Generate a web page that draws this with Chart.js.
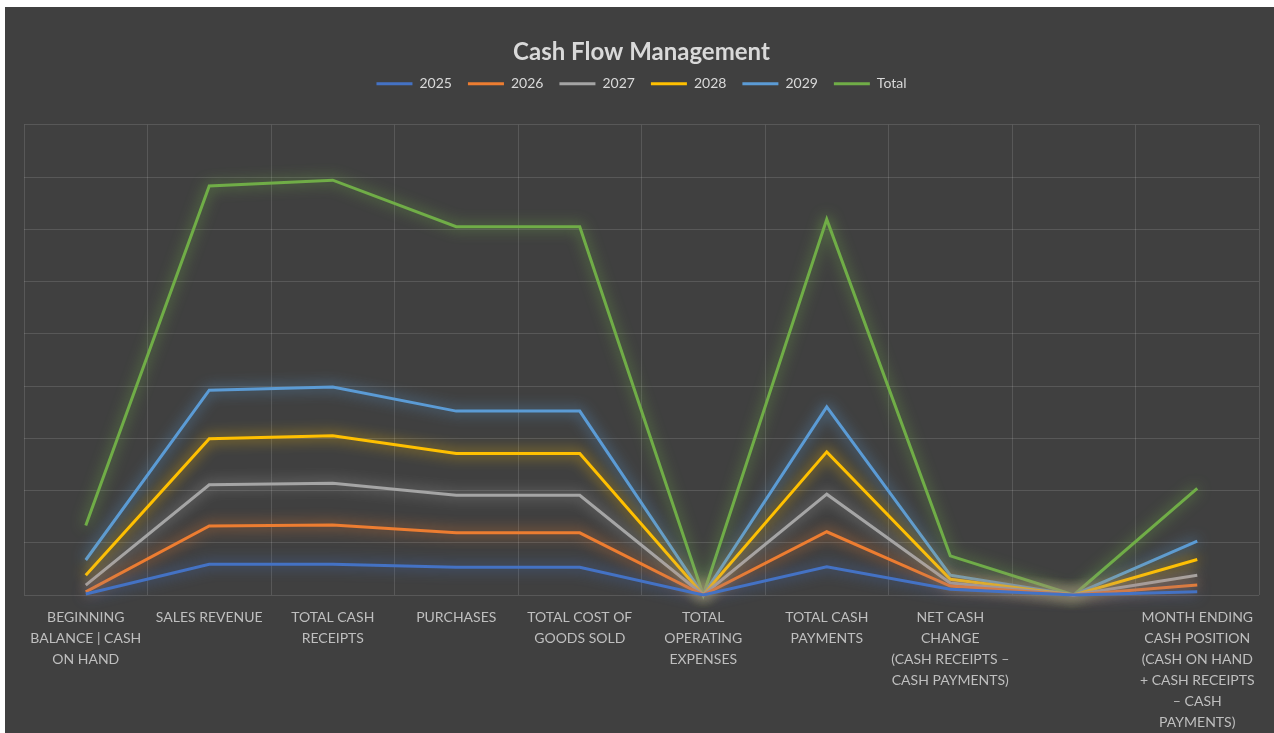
<!DOCTYPE html>
<html>
<head>
<meta charset="utf-8">
<script src="https://cdn.jsdelivr.net/npm/chart.js@4"></script>
<style>
  html, body { margin: 0; padding: 0; background: #fff; overflow: hidden; }
  #wrap { position: absolute; left: 5px; top: 7px; width: 1269px; height: 726px; background: #404040; }
</style>
</head>
<body>
<div id="wrap"><canvas id="cashChart"></canvas></div>
<script>
// categories (multi-line tick labels)
const categories = [
  ["BEGINNING", "BALANCE | CASH", "ON HAND"],
  ["SALES REVENUE"],
  ["TOTAL CASH", "RECEIPTS"],
  ["PURCHASES"],
  ["TOTAL COST OF", "GOODS SOLD"],
  ["TOTAL", "OPERATING", "EXPENSES"],
  ["TOTAL CASH", "PAYMENTS"],
  ["NET CASH", "CHANGE", "(CASH RECEIPTS –", "CASH PAYMENTS)"],
  [""],
  ["MONTH ENDING", "CASH POSITION", "(CASH ON HAND", "+ CASH RECEIPTS", "– CASH", "PAYMENTS)"]
];

// series values (stacked line chart)
const y2025 = [2, 59, 59, 53, 53, 0, 54, 11, 0, 6];
const y2026 = [4, 73, 75, 66, 66, 0, 67, 6, 0, 13];
const y2027 = [13, 79, 80, 72, 72, 0, 72, 6, 0, 19];
const y2028 = [19, 88, 91, 80, 80, 0, 81, 7, 0, 30];
const y2029 = [29, 93, 93, 81, 81, 0, 86, 8, 0, 35];
const total = [66, 391, 396, 353, 353, 0, 359, 37, 0, 101];

const seriesNames = ["2025", "2026", "2027", "2028", "2029", "Total"];
const seriesColors = ["#4472C4", "#ED7D31", "#A5A5A5", "#FFC000", "#5B9BD5", "#70AD47"];
const seriesData = [y2025, y2026, y2027, y2028, y2029, total];

// soft glow around each line, like the Excel effect
const glowPlugin = {
  id: "glow",
  beforeDatasetDraw(chart, args) {
    const ctx = chart.ctx;
    ctx.save();
    ctx.shadowColor = args.meta.dataset.options.borderColor;
    ctx.shadowBlur = 14;
  },
  afterDatasetDraw(chart) {
    chart.ctx.restore();
  }
};

// extra room between legend and plot area
const legendGap = {
  id: "legendGap",
  beforeInit(chart) {
    const fit = chart.legend.fit;
    chart.legend.fit = function () {
      fit.call(this);
      this.height += 24;
    };
  }
};

const ctx = document.getElementById("cashChart").getContext("2d");
new Chart(ctx, {
  type: "line",
  data: {
    labels: categories,
    datasets: seriesNames.map((name, i) => ({
      label: name,
      data: seriesData[i],
      borderColor: seriesColors[i],
      backgroundColor: seriesColors[i],
      borderWidth: 3,
      pointRadius: 0,
      pointStyle: "line",
      tension: 0,
      fill: false,
      clip: false
    }))
  },
  options: {
    responsive: true,
    maintainAspectRatio: false,
    animation: false,
    layout: { padding: { left: 19, right: 15, top: 0, bottom: 0 } },
    plugins: {
      title: {
        display: true,
        text: "Cash Flow Management",
        color: "#d9d9d9",
        font: { family: "Lato", size: 24, weight: "bold" },
        padding: { top: 31, bottom: -6 }
      },
      legend: {
        position: "top",
        labels: {
          color: "#d9d9d9",
          font: { family: "Lato", size: 14 },
          usePointStyle: true,
          pointStyleWidth: 36,
          boxHeight: 3,
          padding: 16
        }
      },
      tooltip: { enabled: false }
    },
    scales: {
      x: {
        offset: true,
        grid: { offset: true, color: "rgba(255,255,255,0.13)", drawTicks: false },
        border: { display: false },
        ticks: {
          color: "#bfbfbf",
          font: { family: "Lato", size: 14, lineHeight: 1.5 },
          maxRotation: 0,
          autoSkip: false,
          padding: 12
        },
        afterFit: (axis) => { axis.height = 138; }
      },
      y: {
        stacked: true,
        min: 0,
        max: 900,
        grid: { color: "rgba(255,255,255,0.13)", drawTicks: false },
        border: { display: false },
        ticks: { display: false, stepSize: 100 }
      }
    }
  },
  plugins: [glowPlugin, legendGap]
});
</script>
</body>
</html>
